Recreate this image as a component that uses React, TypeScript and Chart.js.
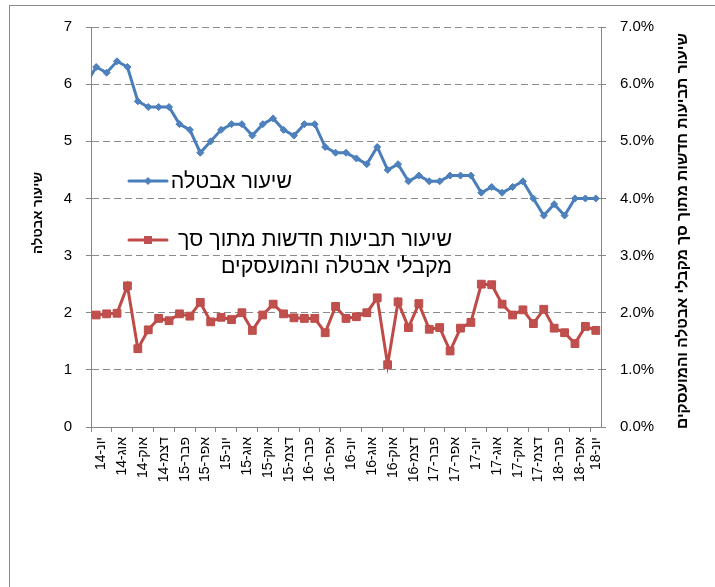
import React, { useEffect, useRef } from 'react';
import { Chart, registerables } from 'chart.js';

Chart.register(...registerables);

// Months, starting one month before the visible range (May-14 is clipped at the left edge)
const months: string[] = [
  'מאי-14', 'יונ-14', 'יול-14', 'אוג-14', 'ספט-14', 'אוק-14', 'נוב-14', 'דצמ-14',
  'ינו-15', 'פבר-15', 'מרץ-15', 'אפר-15', 'מאי-15', 'יונ-15', 'יול-15', 'אוג-15', 'ספט-15', 'אוק-15', 'נוב-15', 'דצמ-15',
  'ינו-16', 'פבר-16', 'מרץ-16', 'אפר-16', 'מאי-16', 'יונ-16', 'יול-16', 'אוג-16', 'ספט-16', 'אוק-16', 'נוב-16', 'דצמ-16',
  'ינו-17', 'פבר-17', 'מרץ-17', 'אפר-17', 'מאי-17', 'יונ-17', 'יול-17', 'אוג-17', 'ספט-17', 'אוק-17', 'נוב-17', 'דצמ-17',
  'ינו-18', 'פבר-18', 'מרץ-18', 'אפר-18', 'מאי-18', 'יונ-18',
];

// Unemployment rate (left axis)
const unemployment: number[] = [
  6.0, 6.3, 6.2, 6.4, 6.3, 5.7, 5.6, 5.6, 5.6, 5.3, 5.2, 4.8, 5.0, 5.2, 5.3, 5.3, 5.1, 5.3, 5.4, 5.2,
  5.1, 5.3, 5.3, 4.9, 4.8, 4.8, 4.7, 4.6, 4.9, 4.5, 4.6, 4.3, 4.4, 4.3, 4.3, 4.4, 4.4, 4.4, 4.1, 4.2,
  4.1, 4.2, 4.3, 4.0, 3.7, 3.9, 3.7, 4.0, 4.0, 4.0,
];

// New claims as % of benefit recipients and employed (right axis, percent)
const newClaims: number[] = [
  1.95, 1.96, 1.98, 1.99, 2.47, 1.37, 1.70, 1.90, 1.86, 1.98, 1.94, 2.18, 1.84, 1.92, 1.88, 2.00, 1.69, 1.96, 2.15, 1.98,
  1.91, 1.90, 1.90, 1.65, 2.11, 1.90, 1.93, 2.00, 2.26, 1.09, 2.19, 1.74, 2.16, 1.71, 1.74, 1.33, 1.73, 1.83, 2.50, 2.49,
  2.15, 1.96, 2.05, 1.81, 2.06, 1.73, 1.65, 1.46, 1.76, 1.69,
];

const seriesUnemployment = 'שיעור אבטלה';
const seriesClaimsLines: string[] = ['שיעור תביעות חדשות מתוך סך', 'מקבלי אבטלה והמועסקים'];
const leftTitle = 'שיעור אבטלה';
const rightTitle = 'שיעור תביעות חדשות מתוך סך מקבלי אבטלה והמועסקים';

const leftTicks: number[] = [0, 1, 2, 3, 4, 5, 6, 7];
const rightTicks: number[] = [0, 1, 2, 3, 4, 5, 6, 7];

const BLUE = '#4A7EBB';
const BLUE_FILL = '#4F81BD';
const RED = '#BE4B48';
const RED_FILL = '#C0504D';
const AXIS = '#868686';
const GRID = '#8C8C8C';
const FONT = '"Liberation Sans", "DejaVu Sans", Arial, sans-serif';

const nVisible = months.length - 1; // 49 visible months (Jun-14 .. Jun-18)

const fitFont = (ctx: CanvasRenderingContext2D, text: string, weight: string, base: number, target: number) => {
  ctx.font = `${weight} ${base}px ${FONT}`;
  const w = ctx.measureText(text).width || target;
  const size = Math.max(8, Math.min(24, (base * target) / w));
  ctx.font = `${weight} ${size.toFixed(2)}px ${FONT}`;
};

const inlineLegend = {
  id: 'inlineLegend',
  afterDatasetsDraw(chart: any) {
    const ctx = chart.ctx as CanvasRenderingContext2D;
    ctx.save();
    const drawSample = (y: number, color: string, fill: string, kind: string) => {
      ctx.strokeStyle = color;
      ctx.lineWidth = 3;
      ctx.lineCap = 'round';
      ctx.beginPath();
      ctx.moveTo(129, y);
      ctx.lineTo(167, y);
      ctx.stroke();
      ctx.fillStyle = fill;
      ctx.beginPath();
      if (kind === 'diamond') {
        ctx.moveTo(148, y - 4);
        ctx.lineTo(152, y);
        ctx.lineTo(148, y + 4);
        ctx.lineTo(144, y);
        ctx.closePath();
      } else {
        ctx.rect(144, y - 4, 8, 8);
      }
      ctx.fill();
    };
    drawSample(181, BLUE, BLUE_FILL, 'diamond');
    drawSample(240, RED, RED_FILL, 'square');
    ctx.fillStyle = '#000';
    fitFont(ctx, seriesClaimsLines[0], 'normal', 18, 274);
    ctx.textAlign = 'right';
    ctx.textBaseline = 'middle';
    ctx.fillText(seriesUnemployment, 292, 182);
    ctx.fillText(seriesClaimsLines[0], 452, 240);
    ctx.fillText(seriesClaimsLines[1], 452, 267);
    ctx.restore();
  },
  afterDraw(chart: any) {
    const ctx = chart.ctx as CanvasRenderingContext2D;
    const drawTitle = (text: string, cx: number, cy: number, target: number) => {
      ctx.save();
      ctx.fillStyle = '#000';
      fitFont(ctx, text, 'bold', 15, target);
      ctx.translate(cx, cy);
      ctx.rotate(-Math.PI / 2);
      ctx.textAlign = 'center';
      ctx.textBaseline = 'middle';
      ctx.fillText(text, 0, 0);
      ctx.restore();
    };
    drawTitle(leftTitle, 38, 213, 82);
    drawTitle(rightTitle, 683, 231, 396);
  },
};

export default function App() {
  const ref = useRef<HTMLCanvasElement>(null);
  useEffect(() => {
    const tickMarks: number[] = [];
    for (let k = 0; k * 2 < nVisible; k++) tickMarks.push(-0.5 + 2 * k);
    const labelPos: number[] = [];
    const labelText: string[] = [];
    for (let i = 1; i < months.length; i += 2) {
      const idx = i - 1;
      labelPos.push(Math.min(idx + 0.5, nVisible - 1));
      labelText.push(months[i]);
    }
    const chart = new Chart(ref.current as HTMLCanvasElement, {
      type: 'line',
      data: {
        datasets: [
          {
            label: seriesUnemployment,
            data: unemployment.map((v, i) => ({ x: i - 1, y: v })),
            borderColor: BLUE,
            backgroundColor: BLUE_FILL,
            borderWidth: 3,
            pointStyle: 'rectRot',
            pointRadius: 3.5,
            pointBorderWidth: 1,
            pointBorderColor: BLUE,
            pointBackgroundColor: BLUE_FILL,
            tension: 0,
            yAxisID: 'y',
            xAxisID: 'x',
            clip: 0,
          },
          {
            label: seriesClaimsLines.join(' '),
            data: newClaims.map((v, i) => ({ x: i - 1, y: v })),
            borderColor: RED,
            backgroundColor: RED_FILL,
            borderWidth: 3,
            pointStyle: 'rect',
            pointRadius: 5.5,
            pointBorderWidth: 1,
            pointBorderColor: RED,
            pointBackgroundColor: RED_FILL,
            tension: 0,
            yAxisID: 'y1',
            xAxisID: 'x',
            clip: 0,
          },
        ],
      },
      options: {
        responsive: false,
        animation: false,
        devicePixelRatio: 1,
        layout: { padding: { top: 27, left: 0, right: 0, bottom: 0 } },
        plugins: { legend: { display: false }, tooltip: { enabled: false } },
        scales: {
          x: {
            type: 'linear',
            position: 'bottom',
            min: -0.5,
            max: nVisible - 0.5,
            afterBuildTicks: (s: any) => {
              s.ticks = tickMarks.map((v) => ({ value: v }));
            },
            afterFit: (s: any) => {
              s.height = 5;
            },
            ticks: { display: false },
            grid: { drawOnChartArea: false, drawTicks: true, tickLength: 5, color: AXIS, tickColor: AXIS },
            border: { display: true, color: AXIS, width: 1 },
          },
          xl: {
            type: 'linear',
            position: 'bottom',
            min: -0.5,
            max: nVisible - 0.5,
            afterBuildTicks: (s: any) => {
              s.ticks = labelPos.map((v) => ({ value: v }));
            },
            afterFit: (s: any) => {
              s.height = 155;
            },
            ticks: {
              autoSkip: false,
              minRotation: 90,
              maxRotation: 90,
              padding: 5,
              color: '#000',
              font: { family: FONT, size: 14 },
              callback: (_v: any, i: number) => labelText[i],
            },
            grid: { display: false, drawTicks: false },
            border: { display: false },
          },
          y: {
            type: 'linear',
            position: 'left',
            min: 0,
            max: 7,
            afterBuildTicks: (s: any) => {
              s.ticks = leftTicks.map((v) => ({ value: v }));
            },
            afterFit: (s: any) => {
              s.width = 91;
            },
            ticks: {
              padding: 14,
              color: '#000',
              font: { family: FONT, size: 15 },
              callback: (v: any) => String(v),
            },
            grid: {
              drawTicks: true,
              tickLength: 5,
              tickColor: AXIS,
              color: (c: any) => (c.tick && c.tick.value === 0 ? 'rgba(0,0,0,0)' : GRID),
            },
            border: { display: true, color: AXIS, dash: [7, 4] },
            title: { display: false, text: leftTitle },
          },
          y1: {
            type: 'linear',
            position: 'right',
            min: 0,
            max: 7,
            afterBuildTicks: (s: any) => {
              s.ticks = rightTicks.map((v) => ({ value: v }));
            },
            afterFit: (s: any) => {
              s.width = 114;
            },
            ticks: {
              padding: 14,
              color: '#000',
              font: { family: FONT, size: 15 },
              callback: (v: any) => Number(v).toFixed(1) + '%',
            },
            grid: { drawOnChartArea: false, drawTicks: true, tickLength: 5, tickColor: AXIS },
            border: { display: true, color: AXIS },
            title: { display: false, text: rightTitle },
          },
        },
      },
      plugins: [inlineLegend],
    } as any);
    return () => chart.destroy();
  }, []);

  return (
    <div style={{ position: 'fixed', left: 0, top: 0, width: 715, height: 587, background: '#fff', overflow: 'hidden' }}>
      <div
        style={{
          position: 'absolute',
          left: 9,
          top: 5,
          width: 730,
          height: 700,
          border: '1px solid #8a8a8a',
          boxSizing: 'border-box',
        }}
      />
      <canvas ref={ref} width={715} height={587} style={{ position: 'absolute', left: 0, top: 0 }} />
    </div>
  );
}
